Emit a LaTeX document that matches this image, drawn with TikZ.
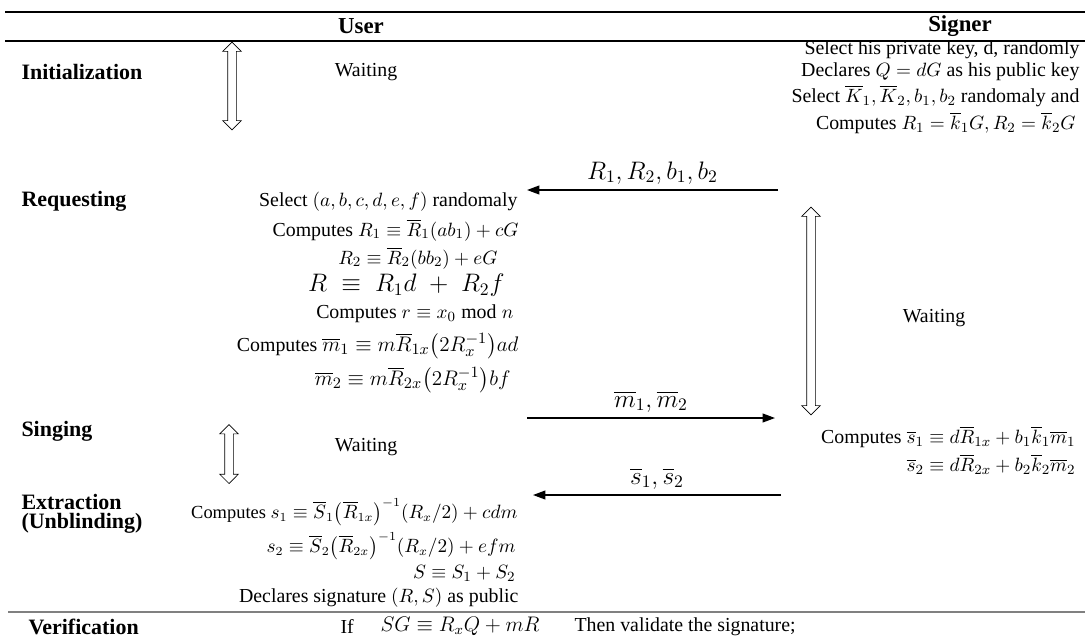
\documentclass[tikz,border=0pt]{standalone}
\usepackage{fontspec}
\setmainfont{Liberation Serif}
\usepackage{amsmath}
\usetikzlibrary{arrows.meta, shapes.arrows}

\newcommand{\txtsize}{\fontsize{11.3}{13.5}\selectfont}
\newcommand{\bigsize}{\fontsize{14}{16}\selectfont}

\begin{document}
\begin{tikzpicture}[x=0.02cm, y=-0.02cm, >={Triangle[length=7pt,width=5pt]}, semithick,
    font=\txtsize,
    phase/.style={anchor=west, font=\fontsize{12.5}{11}\selectfont\bfseries, inner sep=0pt},
    head/.style={font=\fontsize{13}{15}\selectfont\bfseries, inner sep=0pt},
    usrtxt/.style={anchor=east, inner sep=0pt},
    sgntxt/.style={anchor=east, inner sep=0pt},
    wait/.style={inner sep=0pt},
    msg/.style={->, line width=0.8pt},
    msglbl/.style={above=3pt, font=\bigsize, inner sep=0pt},
    hollow/.style={double arrow, draw, thin, rotate=90, inner sep=0.08cm,
      double arrow head extend=0.1cm}
  ]
  \useasboundingbox (0,0) rectangle (1085,639);

  % reglas de la tabla
  \draw[line width=1.2pt] (5,12) -- (1085,12);
  \draw[line width=1.2pt] (5,41) -- (1085,41);
  \draw[gray, line width=0.8pt] (8,612) -- (1085,612);

  % encabezados
  \node[head] (user)   at (361,26) {User};
  \node[head] (signer) at (960,26) {Signer};

  % fases
  \node[phase] (init)  at (21,72)  {Initialization};
  \node[phase] (req)   at (21,201) {Requesting};
  \node[phase] (sing)  at (21,431) {Singing};
  \node[phase, align=left] (extr) at (21,514) {Extraction\\(Unblinding)};
  \node[phase] (verif) at (28,627) {Verification};

  % esperas
  \node[hollow, minimum height=1.76cm] (uwait1) at (232,86) {};
  \node[wait] (uw1) at (366,72) {Waiting};
  \node[hollow, minimum height=1.18cm] (uwait2) at (229,454) {};
  \node[wait] (uw2) at (366,447) {Waiting};
  \node[hollow, minimum height=4.16cm] (swait) at (811,311) {};
  \node[wait] (sw) at (934,318) {Waiting};

  % firmante: inicializacion
  \node[sgntxt] (si1) at (1080,50)  {Select his private key, d, randomly};
  \node[sgntxt] (si2) at (1080,72)  {Declares $Q = dG$ as his public key};
  \node[sgntxt] (si3) at (1080,96)  {Select $\overline{K}_1, \overline{K}_2, b_1, b_2$ randomaly and};
  \node[sgntxt] (si4) at (1076,123) {Computes $R_1 = \overline{k}_1G, R_2 = \overline{k}_2G$};

  % usuario: solicitud
  \node[usrtxt] (ur1) at (518,202) {Select $(a, b, c, d, e, f)$ randomaly};
  \node[usrtxt] (ur2) at (519,230) {Computes $R_1 \equiv \overline{R}_1(ab_1) + cG$};
  \node[usrtxt] (ur3) at (498,258) {$R_2 \equiv \overline{R}_2(bb_2) + eG$};
  \node[usrtxt, font=\fontsize{14}{16}\selectfont] (ur4) at (505,285) {$R \;\equiv\; R_1d \;+\; R_2f$};
  \node[usrtxt] (ur5) at (514,314) {Computes $r \equiv x_0 \bmod n$};
  \node[usrtxt] (ur6) at (519,346) {Computes {\fontsize{12.5}{15}\selectfont $\overline{m}_1 \equiv m\overline{R}_{1x}\bigl(2R_x^{-1}\bigr)ad$}};
  \node[usrtxt, font=\fontsize{12.5}{15}\selectfont] (ur7) at (511,380) {$\overline{m}_2 \equiv m\overline{R}_{2x}\bigl(2R_x^{-1}\bigr)bf$};

  % mensajes
  \coordinate (reqS) at (778,190);
  \coordinate (reqU) at (527,190);
  \draw[msg] (reqS) -- node[msglbl] (lreq) {$R_1, R_2, b_1, b_2$} (reqU);
  \coordinate (blindU) at (527,418);
  \coordinate (blindS) at (775,418);
  \draw[msg] (blindU) -- node[msglbl] (lblind) {$\overline{m}_1, \overline{m}_2$} (blindS);
  \coordinate (sigS) at (781,495);
  \coordinate (sigU) at (533,495);
  \draw[msg] (sigS) -- node[msglbl] (lsig) {$\overline{s}_1, \overline{s}_2$} (sigU);

  % firmante: firma
  \node[sgntxt] (ss1) at (1076,437) {Computes $\overline{s}_1 \equiv d\overline{R}_{1x} + b_1\overline{k}_1\overline{m}_1$};
  \node[sgntxt] (ss2) at (1076,464) {$\overline{s}_2 \equiv d\overline{R}_{2x} + b_2\overline{k}_2\overline{m}_2$};

  % usuario: extraccion
  \node[usrtxt, font=\fontsize{10.5}{12.5}\selectfont] (ue1) at (518,512) {Computes $s_1 \equiv \overline{S}_1\bigl(\overline{R}_{1x}\bigr)^{-1}(R_x/2) + cdm$};
  \node[usrtxt, font=\fontsize{10.5}{12.5}\selectfont] (ue2) at (516,546) {$s_2 \equiv \overline{S}_2\bigl(\overline{R}_{2x}\bigr)^{-1}(R_x/2) + efm$};
  \node[usrtxt] (ue3) at (516,573) {$S \equiv S_1 + S_2$};
  \node[usrtxt] (ue4) at (519,598) {Declares signature $(R, S)$ as public};

  % verificacion
  \node[wait, anchor=west] (vif)   at (340,627) {If};
  \node[wait, anchor=west, font=\fontsize{12}{14}\selectfont] (vexp) at (380,626) {$SG \equiv R_xQ + mR$};
  \node[wait, anchor=west] (vthen) at (574,627) {Then validate the signature;};
\end{tikzpicture}
\end{document}
